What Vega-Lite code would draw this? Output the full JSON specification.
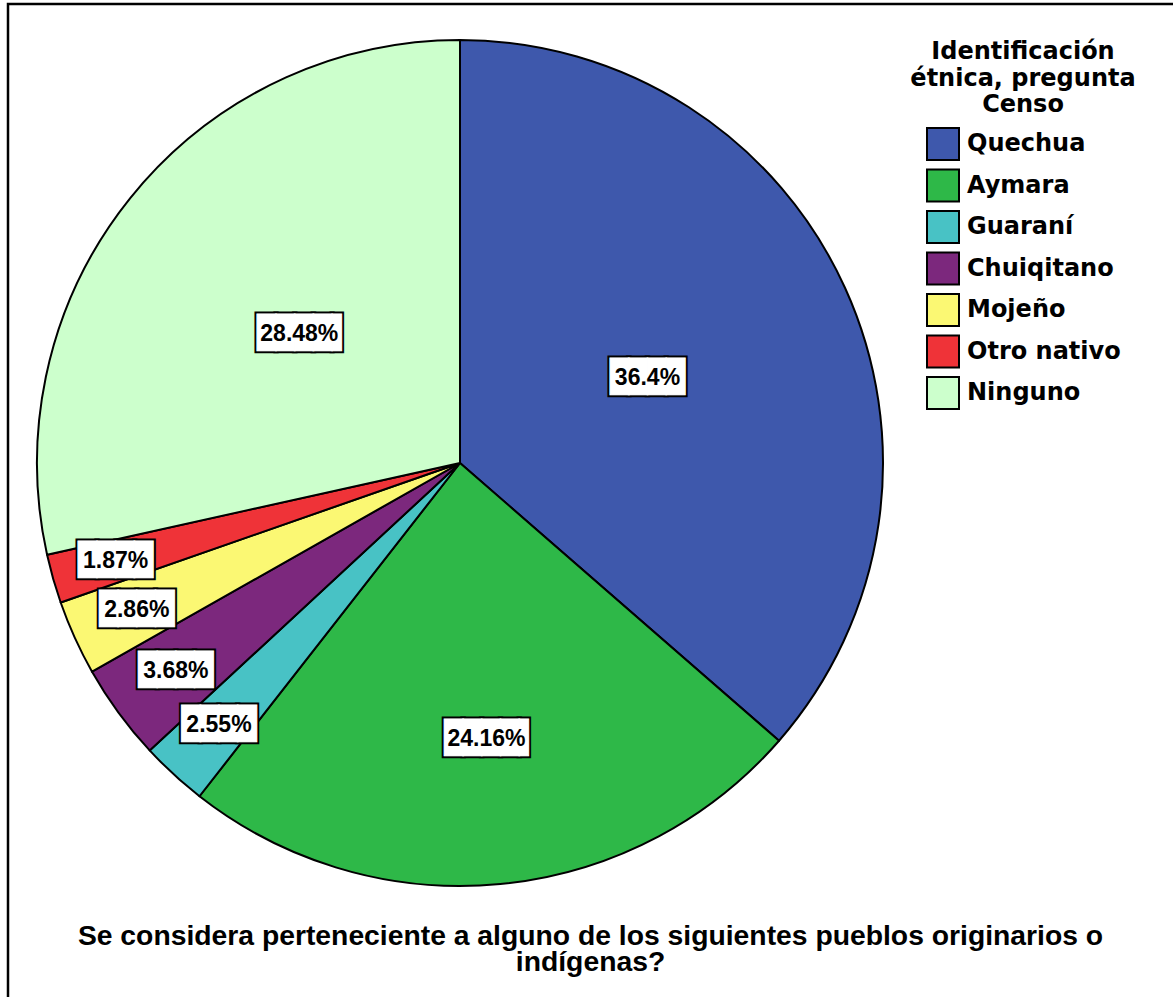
{
  "$schema": "https://vega.github.io/schema/vega-lite/v6.json",
  "autosize": {"type": "none"},
  "width": 1165,
  "height": 993,
  "padding": {"left": 8, "top": 4, "right": 0, "bottom": 0},
  "background": "white",
  "view": {"stroke": "black", "strokeWidth": 2.5, "strokeDash": [1165, 2158, 993]},
  "config": {
    "view": {"stroke": "black", "strokeWidth": 2.5, "strokeDash": [1165, 2158, 993]}
  },
  "title": {
    "text": ["Se considera perteneciente a alguno de los siguientes pueblos originarios o", "indígenas?"],
    "orient": "bottom",
    "anchor": "middle",
    "frame": "group",
    "offset": -74,
    "font": "Liberation Sans",
    "fontSize": 28.3,
    "fontWeight": "bold",
    "color": "black",
    "lineHeight": 26
  },
  "data": {
    "values": [
      {"cat": "Quechua", "codigo": 1, "pct": 0.364},
      {"cat": "Aymara", "codigo": 2, "pct": 0.2416},
      {"cat": "Guaraní", "codigo": 3, "pct": 0.0255},
      {"cat": "Chuiqitano", "codigo": 4, "pct": 0.0368},
      {"cat": "Mojeño", "codigo": 5, "pct": 0.0286},
      {"cat": "Otro nativo", "codigo": 6, "pct": 0.0187},
      {"cat": "Ninguno", "codigo": 7, "pct": 0.2848}
    ]
  },
  "encoding": {
    "theta": {"field": "pct", "type": "quantitative", "stack": true},
    "order": {"field": "codigo", "type": "quantitative"},
    "detail": {"field": "cat", "type": "nominal"}
  },
  "layer": [
    {
      "mark": {"type": "arc", "outerRadius": 423, "stroke": "black", "strokeWidth": 2, "strokeJoin": "round", "x": 452, "y": 459},
      "encoding": {
        "color": {
          "field": "cat",
          "type": "nominal",
          "sort": null,
          "scale": {
            "domain": ["Quechua", "Aymara", "Guaraní", "Chuiqitano", "Mojeño", "Otro nativo", "Ninguno"],
            "range": ["#3E58AC", "#2EB848", "#48C2C5", "#7C287D", "#FBF873", "#EF3338", "#CCFFCC"]
          },
          "legend": {
            "title": ["Identificación", "étnica, pregunta", "Censo"],
            "orient": "none",
            "legendX": 902,
            "legendY": 36,
            "padding": 0,
            "titleFont": "DejaVu Sans",
            "titleFontSize": 24,
            "titleFontWeight": "bold",
            "titleColor": "black",
            "titleLineHeight": 26.5,
            "titleAnchor": "middle",
            "titleAlign": "center",
            "titleLimit": 400,
            "titlePadding": 10,
            "labelFont": "DejaVu Sans",
            "labelFontSize": 24,
            "labelFontWeight": "bold",
            "labelColor": "black",
            "labelLimit": 300,
            "labelOffset": 7,
            "symbolType": "square",
            "symbolSize": 1024,
            "symbolStrokeColor": "black",
            "symbolStrokeWidth": 2,
            "symbolOpacity": 1,
            "rowPadding": 1.5
          }
        }
      }
    },
    {
      "mark": {"type": "text", "font": "DejaVu Sans Mono", "fontSize": 31, "fill": "black", "stroke": "black", "strokeWidth": 5, "align": "center", "baseline": "middle", "x": 452, "y": 459, "dx": {"expr": "datum.pct > 0.2 && datum.pct < 0.3 ? 4.67 : 0"}},
      "encoding": {
        "radius": {"field": "pct", "type": "quantitative", "scale": {"type": "linear", "domain": [0.02, 0.24, 0.28], "range": [358, 280, 206], "clamp": true, "zero": false}},
        "text": {"condition": {"test": "datum.pct > 0.2 && datum.pct < 0.3", "value": "████▌"}, "value": "████"}
      }
    },
    {
      "mark": {"type": "text", "font": "DejaVu Sans Mono", "fontSize": 31, "fill": "white", "stroke": "white", "strokeWidth": 1, "align": "center", "baseline": "middle", "x": 452, "y": 459, "dx": {"expr": "datum.pct > 0.2 && datum.pct < 0.3 ? 4.67 : 0"}},
      "encoding": {
        "radius": {"field": "pct", "type": "quantitative"},
        "text": {"condition": {"test": "datum.pct > 0.2 && datum.pct < 0.3", "value": "████▌"}, "value": "████"}
      }
    },
    {
      "mark": {"type": "text", "font": "Liberation Sans", "fontSize": 23, "fontWeight": "bold", "fill": "black", "align": "center", "baseline": "middle", "x": 452, "y": 459},
      "encoding": {
        "radius": {"field": "pct", "type": "quantitative"},
        "text": {"field": "pct", "type": "quantitative", "format": ".2~%"}
      }
    }
  ]
}
